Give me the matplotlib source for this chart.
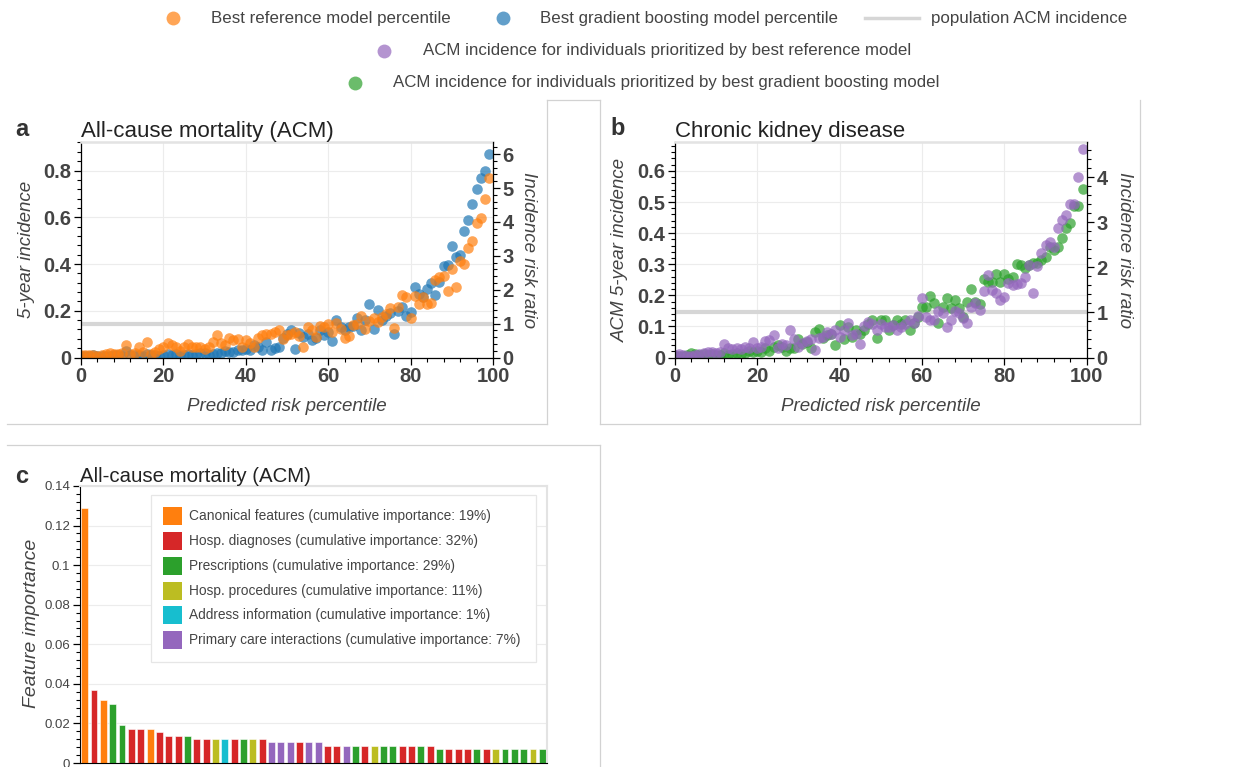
import numpy as np
import matplotlib
matplotlib.use("Agg")
import matplotlib.pyplot as plt
import matplotlib.transforms as mtransforms
from matplotlib.lines import Line2D
from matplotlib.patches import Rectangle
from matplotlib.ticker import AutoMinorLocator, MultipleLocator, FuncFormatter

plt.rcParams['font.family'] = ['Liberation Sans', 'DejaVu Sans']

# ---------------------------------------------------------------- data
percentile = np.arange(100)
population_incidence = 0.145

acm_reference = [
    0.010, 0.012, 0.010, 0.012, 0.008, 0.010, 0.014, 0.020, 0.014, 0.017,
    0.020, 0.053, 0.017, 0.020, 0.045, 0.024, 0.067, 0.014, 0.024, 0.038,
    0.043, 0.063, 0.053, 0.043, 0.028, 0.045, 0.057, 0.045, 0.045, 0.043,
    0.038, 0.043, 0.067, 0.095, 0.063, 0.053, 0.085, 0.074, 0.081, 0.045,
    0.074, 0.060, 0.045, 0.085, 0.095, 0.102, 0.102, 0.110, 0.117, 0.081,
    0.095, 0.102, 0.110, 0.091, 0.045, 0.131, 0.117, 0.088, 0.134, 0.131,
    0.145, 0.110, 0.148, 0.120, 0.085, 0.091, 0.138, 0.145, 0.177, 0.124,
    0.157, 0.167, 0.152, 0.174, 0.188, 0.210, 0.128, 0.216, 0.266, 0.260,
    0.167, 0.262, 0.228, 0.260, 0.230, 0.233, 0.330, 0.345, 0.350, 0.285,
    0.380, 0.300, 0.415, 0.400, 0.470, 0.500, 0.575, 0.595, 0.680, 0.770,
]
acm_gradient_boosting = [
    0.005, 0.006, 0.008, 0.009, 0.006, 0.005, 0.007, 0.008, 0.009, 0.010,
    0.008, 0.028, 0.011, 0.009, 0.012, 0.008, 0.013, 0.009, 0.010, 0.008,
    0.010, 0.016, 0.012, 0.014, 0.011, 0.012, 0.016, 0.012, 0.014, 0.018,
    0.020, 0.012, 0.015, 0.020, 0.018, 0.026, 0.022, 0.024, 0.034, 0.031,
    0.038, 0.031, 0.053, 0.045, 0.031, 0.067, 0.034, 0.041, 0.043, 0.085,
    0.100, 0.117, 0.038, 0.105, 0.088, 0.102, 0.074, 0.085, 0.117, 0.095,
    0.110, 0.070, 0.162, 0.130, 0.117, 0.130, 0.134, 0.167, 0.117, 0.160,
    0.228, 0.120, 0.205, 0.160, 0.177, 0.190, 0.100, 0.200, 0.216, 0.177,
    0.195, 0.300, 0.270, 0.260, 0.295, 0.320, 0.266, 0.323, 0.390, 0.397,
    0.477, 0.430, 0.437, 0.540, 0.590, 0.655, 0.720, 0.770, 0.800, 0.870,
]
ckd_reference = [
    0.008, 0.011, 0.008, 0.004, 0.006, 0.008, 0.011, 0.013, 0.018, 0.018,
    0.013, 0.018, 0.042, 0.029, 0.026, 0.032, 0.026, 0.034, 0.029, 0.050,
    0.032, 0.034, 0.054, 0.056, 0.072, 0.029, 0.045, 0.040, 0.090, 0.058,
    0.034, 0.047, 0.054, 0.058, 0.024, 0.064, 0.067, 0.083, 0.077, 0.088,
    0.067, 0.088, 0.112, 0.072, 0.077, 0.042, 0.100, 0.115, 0.107, 0.088,
    0.107, 0.099, 0.097, 0.104, 0.088, 0.099, 0.107, 0.120, 0.112, 0.133,
    0.190, 0.131, 0.122, 0.122, 0.150, 0.142, 0.099, 0.122, 0.150, 0.142,
    0.126, 0.110, 0.163, 0.174, 0.152, 0.215, 0.265, 0.217, 0.206, 0.185,
    0.193, 0.240, 0.232, 0.236, 0.238, 0.260, 0.297, 0.206, 0.295, 0.335,
    0.362, 0.372, 0.356, 0.415, 0.442, 0.458, 0.494, 0.494, 0.580, 0.670,
]
ckd_gradient_boosting = [
    0.006, 0.004, 0.004, 0.008, 0.013, 0.011, 0.008, 0.011, 0.008, 0.011,
    0.008, 0.008, 0.013, 0.008, 0.011, 0.013, 0.011, 0.015, 0.021, 0.018,
    0.021, 0.018, 0.029, 0.021, 0.034, 0.040, 0.034, 0.021, 0.029, 0.029,
    0.061, 0.045, 0.050, 0.029, 0.083, 0.093, 0.064, 0.072, 0.077, 0.040,
    0.104, 0.058, 0.097, 0.067, 0.090, 0.077, 0.090, 0.107, 0.122, 0.064,
    0.122, 0.120, 0.088, 0.104, 0.120, 0.109, 0.122, 0.090, 0.112, 0.131,
    0.161, 0.161, 0.197, 0.174, 0.112, 0.163, 0.190, 0.158, 0.185, 0.158,
    0.131, 0.179, 0.219, 0.179, 0.172, 0.254, 0.244, 0.244, 0.268, 0.244,
    0.268, 0.254, 0.260, 0.300, 0.297, 0.287, 0.297, 0.305, 0.303, 0.313,
    0.324, 0.356, 0.346, 0.356, 0.383, 0.415, 0.434, 0.487, 0.487, 0.541,
]

feature_groups = [
    "Canonical features", "Hosp. diagnoses", "Prescriptions",
    "Hosp. procedures", "Address information", "Primary care interactions",
]
group_importance_pct = [19, 32, 29, 11, 1, 7]
group_colors = ["#ff7f0e", "#d62728", "#2ca02c", "#bcbd22", "#17becf", "#9467bd"]

feature_group = [
    "Canonical features", "Hosp. diagnoses", "Canonical features", "Prescriptions",
    "Prescriptions", "Hosp. diagnoses", "Hosp. diagnoses", "Canonical features",
    "Hosp. diagnoses", "Hosp. diagnoses", "Hosp. diagnoses", "Prescriptions",
    "Hosp. diagnoses", "Hosp. diagnoses", "Hosp. procedures", "Address information",
    "Hosp. diagnoses", "Prescriptions", "Hosp. procedures", "Hosp. diagnoses",
    "Primary care interactions", "Primary care interactions", "Primary care interactions",
    "Hosp. diagnoses", "Primary care interactions", "Primary care interactions",
    "Hosp. diagnoses", "Hosp. diagnoses", "Primary care interactions", "Prescriptions",
    "Hosp. diagnoses", "Hosp. procedures", "Prescriptions", "Prescriptions",
    "Hosp. diagnoses", "Hosp. diagnoses", "Prescriptions", "Hosp. diagnoses",
    "Prescriptions", "Hosp. diagnoses", "Hosp. diagnoses", "Hosp. diagnoses",
    "Prescriptions", "Hosp. diagnoses", "Hosp. procedures", "Prescriptions",
    "Prescriptions", "Prescriptions", "Hosp. procedures", "Prescriptions",
]
feature_importance = [
    0.129, 0.037, 0.032, 0.030, 0.019, 0.0172, 0.0172, 0.0172, 0.0155, 0.0138,
    0.0138, 0.0138, 0.0121, 0.0121, 0.0121, 0.0121, 0.0121, 0.0121, 0.0121, 0.0121,
    0.0104, 0.0104, 0.0104, 0.0104, 0.0104, 0.0104, 0.0087, 0.0087, 0.0087, 0.0087,
    0.0087, 0.0087, 0.0087, 0.0087, 0.0087, 0.0087, 0.0087, 0.0087, 0.0071, 0.0071,
    0.0071, 0.0071, 0.0071, 0.0071, 0.0071, 0.0071, 0.0071, 0.0071, 0.0071, 0.0071,
]

# ---------------------------------------------------------------- style
ORANGE, BLUE, GREEN, PURPLE = "#ff7f0e", "#1f77b4", "#2ca02c", "#9467bd"
TEXT = "#444444"
GRID = "#ececec"
FRAME = "#e3e3e3"
BORDER = "#d2d2d2"
POP_LINE = "#d6d6d6"
ALPHA = 0.7

W, H = 1245, 767
fig = plt.figure(figsize=(W / 100, H / 100), dpi=100, facecolor="white")
px = mtransforms.Affine2D().scale(1 / W, -1 / H).translate(0, 1) + fig.transFigure


def rect(left, top, right, bottom):
    return [left / W, 1 - bottom / H, (right - left) / W, (bottom - top) / H]


def fmt_num(v, _pos=None):
    s = f"{v:.2f}".rstrip("0").rstrip(".")
    return "0" if s in ("", "-0") else s


def style_axis(ax, labelsize, bold):
    ax.tick_params(which="major", direction="out", length=5, width=0.9,
                   color="black", labelcolor=TEXT, labelsize=labelsize, pad=2)
    ax.tick_params(which="minor", direction="out", length=3, width=0.8, color="black")
    for lab in ax.get_xticklabels() + ax.get_yticklabels():
        lab.set_fontweight("bold" if bold else "normal")


def incidence_panel(rect_px, x, series, colors, title, ylabel, ytop, ymajor, rmajor,
                    ylab_x, rlab_x):
    ax = fig.add_axes(rect(*rect_px))
    ax.axhline(population_incidence, color=POP_LINE, lw=3, zorder=1)
    for vals, col in zip(series, colors):
        ax.scatter(x, vals, s=58, color=col, alpha=ALPHA, linewidths=0, zorder=2)
    ax.set_xlim(0, 100)
    ax.set_ylim(0, ytop)
    ax.xaxis.set_major_locator(MultipleLocator(20))
    ax.xaxis.set_minor_locator(AutoMinorLocator(5))
    ax.yaxis.set_major_locator(MultipleLocator(ymajor))
    ax.yaxis.set_minor_locator(AutoMinorLocator(5))
    ax.yaxis.set_major_formatter(FuncFormatter(fmt_num))
    ax.grid(True, which="major", color=GRID, lw=0.8, zorder=0)
    ax.set_axisbelow(True)
    for side in ("left", "bottom"):
        ax.spines[side].set_color("black")
        ax.spines[side].set_linewidth(0.9)
    ax.spines["top"].set_color(FRAME)
    ax.spines["top"].set_linewidth(1.8)
    ax.spines["right"].set_visible(False)
    ax.set_title(title, loc="left", fontsize=16, color="#222222", pad=1.5)
    ax.set_xlabel("Predicted risk percentile", fontsize=13.5, style="italic", color=TEXT)
    ax.set_ylabel(ylabel, fontsize=13.5, style="italic", color=TEXT)
    ax.xaxis.set_label_coords(0.5, -0.19)
    ax.yaxis.set_label_coords(ylab_x, 0.5)
    style_axis(ax, 14.5, True)

    ax2 = ax.twinx()
    ax2.set_ylim(0, ytop / population_incidence)
    ax2.yaxis.set_major_locator(MultipleLocator(rmajor))
    ax2.yaxis.set_minor_locator(AutoMinorLocator(5))
    for side in ("left", "top", "bottom"):
        ax2.spines[side].set_visible(False)
    ax2.spines["right"].set_color("black")
    ax2.spines["right"].set_linewidth(0.9)
    ax2.set_ylabel("Incidence risk ratio", fontsize=13.5, style="italic",
                   color=TEXT, rotation=-90, va="bottom")
    ax2.yaxis.set_label_coords(rlab_x, 0.5)
    style_axis(ax2, 14.5, True)
    return ax


# ---------------------------------------------------------------- panel a
incidence_panel((81, 142, 493, 357.5), percentile,
                [acm_gradient_boosting, acm_reference], [BLUE, ORANGE],
                "All-cause mortality (ACM)", "5-year incidence", 0.922, 0.2, 1,
                -0.112, 1.066)

# ---------------------------------------------------------------- panel b
incidence_panel((674.7, 142, 1086.7, 357.5), percentile,
                [ckd_gradient_boosting, ckd_reference], [GREEN, PURPLE],
                "Chronic kidney disease", "ACM 5-year incidence", 0.693, 0.1, 1,
                -0.11, 1.07)

# ---------------------------------------------------------------- panel c
axc = fig.add_axes(rect(80, 486, 547, 763))
color_of = dict(zip(feature_groups, group_colors))
bar_pos = np.arange(len(feature_importance))
axc.bar(bar_pos, feature_importance, width=0.74,
        color=[color_of[g] for g in feature_group],
        edgecolor="white", linewidth=0.4, zorder=2)
axc.set_xlim(-0.5, len(feature_importance) - 0.5)
axc.set_ylim(0, 0.14)
axc.yaxis.set_major_locator(MultipleLocator(0.02))
axc.yaxis.set_minor_locator(AutoMinorLocator(5))
axc.yaxis.set_major_formatter(FuncFormatter(fmt_num))
axc.set_xticks([])
axc.grid(True, axis="y", which="major", color=GRID, lw=0.8, zorder=0)
axc.set_axisbelow(True)
axc.spines["left"].set_color("black")
axc.spines["bottom"].set_color("black")
for side in ("top", "right"):
    axc.spines[side].set_color(FRAME)
    axc.spines[side].set_linewidth(1.5)
axc.set_title("All-cause mortality (ACM)", loc="left", fontsize=14.7,
              color="#222222", pad=2)
axc.set_ylabel("Feature importance", fontsize=14, style="italic", color=TEXT)
axc.yaxis.set_label_coords(-0.086, 0.505)
style_axis(axc, 9.5, False)

# legend of feature groups
fig.add_artist(Rectangle((151, 495), 385, 167, transform=px, facecolor="white",
                         edgecolor="#e6e6e6", lw=0.9, zorder=5))
row_y = [516, 541, 566, 590.5, 615, 640]
for yc, grp, pct, col in zip(row_y, feature_groups, group_importance_pct, group_colors):
    fig.add_artist(Rectangle((163, yc - 9), 18.5, 18, transform=px, facecolor=col,
                             edgecolor="none", zorder=6))
    fig.text(189 / W, 1 - yc / H,
             f"{grp} (cumulative importance: {pct}%)", fontsize=9.9,
             color=TEXT, va="center", ha="left", zorder=6)

# ---------------------------------------------------------------- shared legend
def legend_marker(xc, yc, col):
    fig.add_artist(Line2D([xc], [yc], transform=px, marker="o", ms=10,
                          color=col, alpha=ALPHA, mec="none", ls="none"))


def legend_text(x0, yc, s):
    fig.text(x0 / W, 1 - yc / H, s, fontsize=12.2, color=TEXT, va="center", ha="left")


legend_marker(172.7, 18, ORANGE)
legend_text(211, 18, "Best reference model percentile")
legend_marker(502.7, 18, BLUE)
legend_text(540, 18, "Best gradient boosting model percentile")
fig.add_artist(Line2D([865, 919], [18, 18], transform=px, color=POP_LINE, lw=2.5))
legend_text(930.7, 18, "population ACM incidence")
legend_marker(384.3, 51, PURPLE)
legend_text(422.7, 51, "ACM incidence for individuals prioritized by best reference model")
legend_marker(355, 83, GREEN)
legend_text(392.7, 83, "ACM incidence for individuals prioritized by best gradient boosting model")

# ---------------------------------------------------------------- panel letters
for letter, xl, yb in (("a", 15, 136), ("b", 610, 135), ("c", 15, 483)):
    fig.text(xl / W, 1 - yb / H, letter, fontsize=17, fontweight="bold",
             color="#333333", va="baseline", ha="left")

# ---------------------------------------------------------------- cell borders
for (x0, y0), (x1, y1) in [
    ((547, 100), (547, 424)), ((7, 424), (547, 424)), ((547, 100), (600, 100)),
    ((600, 100), (600, 424)), ((600, 424), (1140, 424)), ((1140, 100), (1140, 424)),
    ((7, 445), (600, 445)), ((600, 445), (600, 767)),
]:
    fig.add_artist(Line2D([x0, x1], [y0, y1], transform=px, color=BORDER, lw=0.9))

fig.savefig("out.png", dpi=100, facecolor="white")
